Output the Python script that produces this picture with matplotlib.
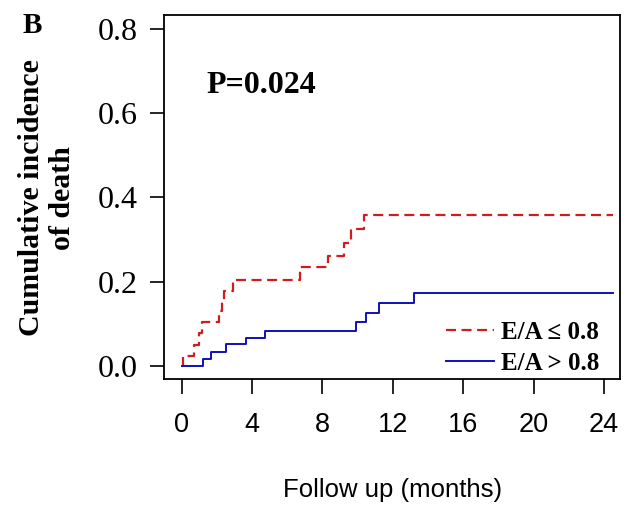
import matplotlib
matplotlib.use("Agg")
import matplotlib.pyplot as plt

# step data (months, cumulative incidence)
red_t = [0, 0.09, 0.7, 1.0, 1.14, 2.14, 2.3, 2.42, 2.9, 6.73, 8.3, 9.25, 9.63, 10.37, 24.5]
red_y = [0, 0.024, 0.05, 0.077, 0.104, 0.13, 0.155, 0.177, 0.203, 0.234, 0.26, 0.292, 0.324, 0.358, 0.358]

blue_t = [0, 1.19, 1.67, 2.5, 3.64, 4.74, 9.9, 10.5, 11.2, 13.2, 24.5]
blue_y = [0, 0.017, 0.034, 0.051, 0.067, 0.083, 0.105, 0.125, 0.149, 0.173, 0.173]

x_ticks = [0, 4, 8, 12, 16, 20, 24]
y_ticks = [0.0, 0.2, 0.4, 0.6, 0.8]
labels = ["E/A \u2264 0.8", "E/A > 0.8"]

serif = ["Liberation Serif", "DejaVu Serif"]
sans = ["Liberation Sans", "DejaVu Sans"]

fig = plt.figure(figsize=(6.36, 5.16), dpi=100)
ax = fig.add_axes([164 / 636, 1 - 379 / 516, 456 / 636, 364 / 516])

ax.step(red_t, red_y, where="post", color="#d01c1c", lw=1.6,
        linestyle=(0, (4.5, 2.5)), label=labels[0])
ax.step(blue_t, blue_y, where="post", color="#1010b4", lw=1.4,
        label=labels[1])

ax.set_xlim(-1.0, 24.9)
ax.set_ylim(-0.031, 0.833)

ax.set_xticks(x_ticks)
ax.set_xticklabels([str(v) for v in x_ticks], family=sans, fontsize=19.5)
ax.set_yticks(y_ticks)
ax.set_yticklabels(["%.1f" % v for v in y_ticks], family=serif, fontsize=23)
ax.tick_params(axis="x", length=11, width=1.2, pad=13, direction="out")
ax.tick_params(axis="y", length=10, width=1.2, pad=9, direction="out")
for s in ax.spines.values():
    s.set_linewidth(1.3)

ax.text(0.093, 0.805, "P=0.024", transform=ax.transAxes, family=serif,
        fontsize=23, fontweight="bold", va="center", ha="left")

leg = ax.legend(loc="lower right", bbox_to_anchor=(0.955, 0.012), frameon=False,
                prop={"family": serif, "size": 18, "weight": "bold"},
                handlelength=1.9, handletextpad=0.3, labelspacing=0.32,
                borderpad=0, borderaxespad=0)

fig.text(47 / 636, 1 - 198 / 516, "Cumulative incidence\nof death", rotation=90,
         family=serif, fontsize=21.5, fontweight="bold", ha="center", va="center",
         multialignment="center", linespacing=1.2)
fig.text(393 / 636, 1 - 490 / 516, "Follow up (months)", family=sans,
         fontsize=18.5, ha="center", va="center")
fig.text(23 / 636, 1 - 12 / 516, "B", family=serif, fontsize=21,
         fontweight="bold", ha="left", va="top")

fig.savefig("out.png", dpi=100)
